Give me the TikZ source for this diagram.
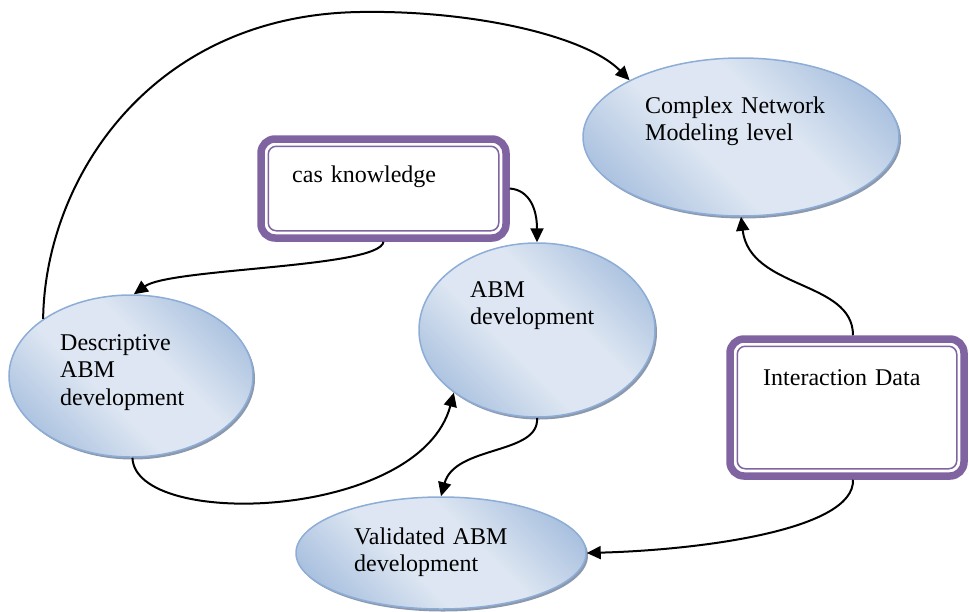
\documentclass[tikz,border=0pt]{standalone}
\usepackage{fontspec}
\setmainfont{Liberation Serif}
\usetikzlibrary{arrows.meta,shapes.geometric,shadows}
\definecolor{boxpurple}{RGB}{128,100,162}
\definecolor{ovalline}{RGB}{141,173,215}
\definecolor{ovaldark}{RGB}{167,191,222}
\definecolor{ovallight}{RGB}{221,230,242}
\definecolor{ovalshadow}{RGB}{140,152,172}
\pgfdeclarehorizontalshading{ovalshade}{100bp}{color(0bp)=(ovaldark); color(22bp)=(ovaldark); color(42bp)=(ovallight); color(58bp)=(ovallight); color(78bp)=(ovaldark); color(100bp)=(ovaldark)}

\begin{document}
\begin{tikzpicture}
		[x=1pt, y=-1pt,
		oval/.style={ellipse, draw=ovalline, line width=1.5pt, shading=ovalshade, shading angle=45,
			drop shadow={shadow xshift=2pt, shadow yshift=-2.5pt, fill=ovalshadow, opacity=1}, inner sep=0pt},
		dbox/.style={draw=boxpurple, line width=7.5pt, rounded corners=14pt, fill=white, inner sep=0pt},
		inbox/.style={draw=boxpurple, line width=1.5pt, rounded corners=8pt},
		txt/.style={anchor=base west, inner sep=0pt, text width=230pt, align=left, font=\fontsize{24}{27.5}\selectfont},
		arr/.style={line width=2pt, -{Triangle[length=14pt,width=13pt]}}]
		\useasboundingbox (0,0) rectangle (969,611);
		% shapes
		\node[oval, minimum width=316pt, minimum height=158pt] (cnm) at (741,137) {};
		\node[oval, minimum width=236pt, minimum height=174pt] (abm) at (537,330) {};
		\node[oval, minimum width=244pt, minimum height=162pt] (desc) at (131,376) {};
		\node[oval, minimum width=290pt, minimum height=112pt] (val) at (441,553) {};
		\node[dbox, minimum width=245pt, minimum height=99pt] (cas) at (383.5,188.5) {};
		\node[dbox, minimum width=234pt, minimum height=137pt] (ida) at (847,407.5) {};
		\draw[inbox] ([shift={(11,11)}]cas.north west) rectangle ([shift={(-11,-11)}]cas.south east);
		\draw[inbox] ([shift={(11,11)}]ida.north west) rectangle ([shift={(-11,-11)}]ida.south east);
		% texts
		\node[txt] (cnm-t) at (645,113) {Complex Network\\Modeling level};
		\node[txt] (cas-t) at (292,182) {cas knowledge};
		\node[txt] (abm-t) at (470,297) {ABM\\development};
		\node[txt] (desc-t) at (60,350) {Descriptive\\ABM\\development};
		\node[txt] (ida-t) at (763,385) {Interaction Data};
		\node[txt] (val-t) at (354,544) {Validated ABM\\development};
		% connectors
		\draw[arr] (desc.147) .. controls (45,180) and (150,15) .. (360,12)
			.. controls (470,10) and (585,35) .. (cnm.153);
		\draw[arr] (cas.south) .. controls (380,268) and (170,268) .. (desc.88);
		\draw[arr] (cas.east) .. controls (530,190) and (537,210) .. (abm.north);
		\draw[arr] (desc.-89) .. controls (135,530) and (420,520) .. (abm.217);
		\draw[arr] (abm.south) .. controls (540,455) and (455,445) .. (val.north);
		\draw[arr] ([xshift=6pt]ida.north) .. controls (853,280) and (750,290) .. (cnm.south);
		\draw[arr] ([xshift=6pt]ida.south) .. controls (855,530) and (700,550) .. (val.east);
	\end{tikzpicture}
\end{document}
